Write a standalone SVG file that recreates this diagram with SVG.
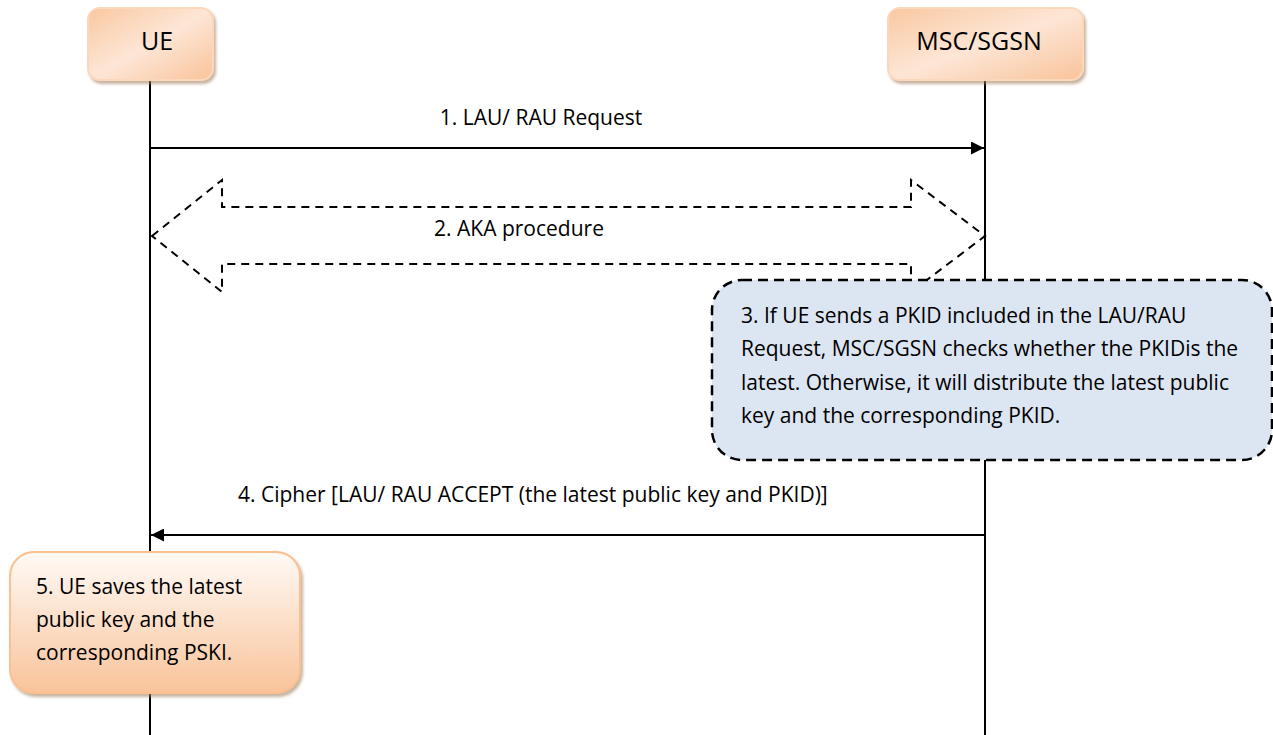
<svg xmlns="http://www.w3.org/2000/svg" width="1273" height="735" viewBox="0 0 1273 735">
<defs>
<linearGradient id="hdr" x1="0" y1="0" x2="1" y2="1">
<stop offset="0" stop-color="#f9c8a0"/>
<stop offset="0.5" stop-color="#fde6d6"/>
<stop offset="1" stop-color="#f9c39a"/>
</linearGradient>
<linearGradient id="note5" x1="0" y1="0" x2="0" y2="1">
<stop offset="0" stop-color="#fffaf6"/>
<stop offset="1" stop-color="#f9c39a"/>
</linearGradient>
<marker id="ah" viewBox="0 0 10 10" refX="10" refY="5" markerWidth="15" markerHeight="13" markerUnits="userSpaceOnUse" orient="auto">
<path d="M0,0 L10,5 L0,10 z" fill="#000"/>
</marker>
<filter id="sh" x="-10%" y="-10%" width="130%" height="130%">
<feGaussianBlur in="SourceAlpha" stdDeviation="1.5"/>
<feOffset dx="2" dy="3" result="b"/>
<feFlood flood-color="#a08060" flood-opacity="0.6"/>
<feComposite in2="b" operator="in"/>
<feMerge><feMergeNode/><feMergeNode in="SourceGraphic"/></feMerge>
</filter>
</defs>
<style>
text{font-family:"Open Sans","Liberation Sans",Arial,sans-serif;fill:#000}
.hdr{fill:url(#hdr);stroke:#fbd7bb;stroke-width:2}
.life{stroke:#000;stroke-width:2;fill:none}
.msg{stroke:#000;stroke-width:2;fill:none}
.dash{stroke:#000;stroke-width:2;fill:#fff;stroke-dasharray:8,6}
.lbl{font-size:21px}
</style>
<rect width="1273" height="735" fill="#fff"/>
<g id="lifelines">
<line class="life" x1="150" y1="80" x2="150" y2="735"/>
<line class="life" x1="985" y1="80" x2="985" y2="735"/>
</g>
<g id="node-ue">
<rect class="hdr" x="88" y="8" width="125" height="72" rx="12" filter="url(#sh)"/>
<text x="157" y="50" font-size="25" text-anchor="middle">UE</text>
</g>
<g id="node-msc">
<rect class="hdr" x="888" y="8" width="195" height="72" rx="12" filter="url(#sh)"/>
<text x="979" y="50" font-size="25" text-anchor="middle">MSC/SGSN</text>
</g>
<g id="connectors">
<line class="msg" x1="150" y1="148" x2="984" y2="148" marker-end="url(#ah)"/>
<text class="lbl" x="541" y="125" text-anchor="middle">1. LAU/ RAU Request</text>
<polygon class="dash" points="152,236 222,180 222,207 911,207 911,180 985,236 911,292 911,264 222,264 222,292"/>
<text class="lbl" x="519" y="236" text-anchor="middle">2. AKA procedure</text>
<line class="msg" x1="985" y1="535" x2="151" y2="535" marker-end="url(#ah)"/>
<text class="lbl" x="238" y="502">4. Cipher [LAU/ RAU ACCEPT (the latest public key and PKID)]</text>
</g>
<g id="node-3">
<rect x="712" y="280" width="560" height="180" rx="30" fill="#dce6f2" stroke="#000" stroke-width="2.5" stroke-dasharray="10,6"/>
<text class="lbl" x="741" y="323">3. If UE sends a PKID included in the LAU/RAU</text>
<text class="lbl" x="741" y="356">Request, MSC/SGSN checks whether the PKIDis the</text>
<text class="lbl" x="741" y="390">latest. Otherwise, it will distribute the latest public</text>
<text class="lbl" x="741" y="423">key and the corresponding PKID.</text>
</g>
<g id="node-5">
<rect x="10" y="552" width="290" height="141" rx="24" fill="url(#note5)" stroke="#fac090" stroke-width="2" filter="url(#sh)"/>
<text class="lbl" x="36" y="594">5. UE saves the latest</text>
<text class="lbl" x="36" y="627">public key and the</text>
<text class="lbl" x="36" y="660">corresponding PSKI.</text>
</g>
</svg>
